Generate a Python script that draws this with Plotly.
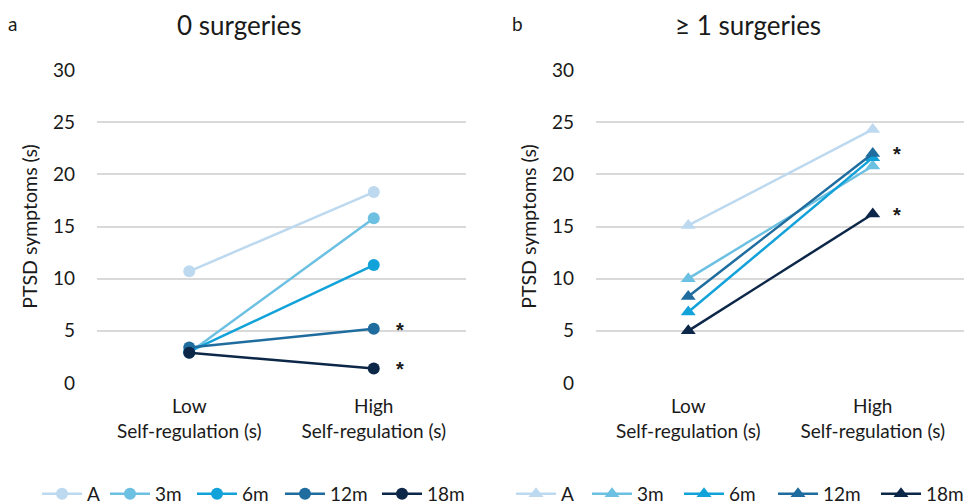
import plotly.graph_objects as go

categories = ["Low<br>Self-regulation (s)", "High<br>Self-regulation (s)"]
series = ["A", "3m", "6m", "12m", "18m"]
colors = ["#bdd9ef", "#6cc0e2", "#12a2da", "#1f6c9f", "#0d2748"]

left_vals = {
    "A": [10.7, 18.3],
    "3m": [2.9, 15.8],
    "6m": [3.0, 11.3],
    "12m": [3.4, 5.2],
    "18m": [2.9, 1.4],
}
right_vals = {
    "A": [15.1, 24.3],
    "3m": [10.0, 20.8],
    "6m": [6.8, 21.6],
    "12m": [8.3, 22.0],
    "18m": [5.0, 16.2],
}
yticks = [0, 5, 10, 15, 20, 25, 30]
left_star_y = [5.2, 1.4]
right_star_y = [22.0, 16.2]

# legend entry left edges (page pixels)
left_legend_x = [42, 110, 197, 285, 382]
right_legend_x = [516, 592, 684, 778, 881]

FONT = "Lato, 'Open Sans', sans-serif"
TXT = "#1a1a1a"
W, H, OFF = 972, 504, 8  # page body margin offset


def px(X):
    return (X - OFF) / W


def py(Y):
    return 1 - (Y - OFF) / H


fig = go.Figure()
legends = {}
k = 1
for i, (s, c) in enumerate(zip(series, colors)):
    lname = "legend" if k == 1 else f"legend{k}"
    legends[lname] = left_legend_x[i]
    fig.add_trace(go.Scatter(
        x=categories, y=left_vals[s], name=s, mode="lines+markers",
        line=dict(color=c, width=2.5), marker=dict(symbol="circle", size=12, color=c),
        xaxis="x", yaxis="y", legend=lname))
    k += 1
for i, (s, c) in enumerate(zip(series, colors)):
    lname = f"legend{k}"
    legends[lname] = right_legend_x[i]
    fig.add_trace(go.Scatter(
        x=categories, y=right_vals[s], name=s, mode="lines+markers",
        line=dict(color=c, width=2.5), marker=dict(symbol="triangle-up", size=13, color=c),
        xaxis="x2", yaxis="y2", legend=lname))
    k += 1

axis_x = dict(type="category", range=[-0.5, 1.5], showgrid=False, showline=False,
              zeroline=False, ticks="", tickfont=dict(size=19, color=TXT, family=FONT),
              ticklabelstandoff=10)
axis_y = dict(range=[0, 30], tickvals=yticks, showgrid=True, gridcolor="#d9d9d9",
              gridwidth=1.5, zeroline=False, showline=False, ticks="",
              tickfont=dict(size=19, color=TXT, family=FONT), ticklabelstandoff=21,
              domain=[py(383), py(70)],
              title=dict(text="PTSD symptoms (s)", font=dict(size=19.5, color=TXT, family=FONT),
                         standoff=10))

legend_common = dict(orientation="h", y=py(494), xanchor="left", yanchor="middle",
                     font=dict(size=19, color=TXT, family=FONT), itemwidth=40,
                     tracegroupgap=0, bgcolor="rgba(0,0,0,0)")

layout_legends = {name: dict(legend_common, x=px(xv - 5)) for name, xv in legends.items()}

fig.update_layout(
    width=W, height=H,
    margin=dict(l=0, r=0, t=0, b=0, autoexpand=False),
    paper_bgcolor="white", plot_bgcolor="white",
    font=dict(family=FONT, color=TXT),
    xaxis=dict(axis_x, domain=[px(97), px(466)], anchor="y"),
    xaxis2=dict(axis_x, domain=[px(596), px(965)], anchor="y2"),
    yaxis=dict(axis_y, anchor="x"),
    yaxis2=dict(axis_y, anchor="x2"),
    showlegend=True,
    **layout_legends,
)

ann = []
ann.append(dict(text="a", x=px(12), y=py(23), xref="paper", yref="paper",
                xanchor="center", yanchor="middle",
                showarrow=False, font=dict(size=19, color=TXT, family=FONT)))
ann.append(dict(text="b", x=px(517), y=py(23), xref="paper", yref="paper",
                xanchor="center", yanchor="middle",
                showarrow=False, font=dict(size=19, color=TXT, family=FONT)))
ann.append(dict(text="0 surgeries", x=px(239), y=py(25), xref="paper", yref="paper",
                xanchor="center", yanchor="middle",
                showarrow=False, font=dict(size=26, color=TXT, family=FONT)))
ann.append(dict(text="≥ 1 surgeries", x=px(748), y=py(25), xref="paper", yref="paper",
                xanchor="center", yanchor="middle",
                showarrow=False, font=dict(size=26, color=TXT, family=FONT)))
star_font = dict(size=20, color=TXT, family="'Liberation Sans', Arial, sans-serif")
for yv in left_star_y:
    ann.append(dict(text="<b>*</b>", x=categories[1], y=yv, xref="x", yref="y",
                    xshift=26, yshift=-1, showarrow=False, font=star_font))
for yv in right_star_y:
    ann.append(dict(text="<b>*</b>", x=categories[1], y=yv, xref="x2", yref="y2",
                    xshift=24, yshift=-1, showarrow=False, font=star_font))
fig.update_layout(annotations=ann)

fig.write_html("out.html")
